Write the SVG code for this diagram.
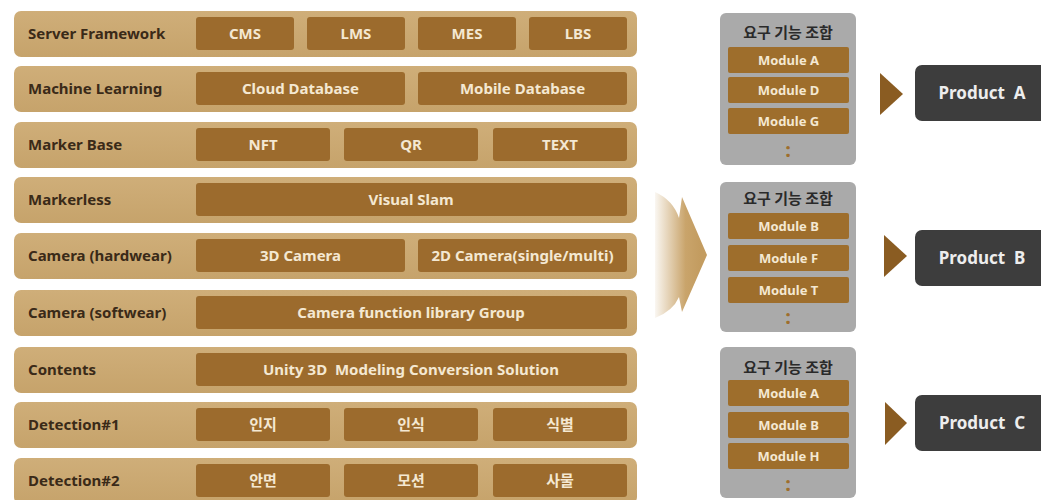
<svg xmlns="http://www.w3.org/2000/svg" width="1041" height="500" viewBox="0 0 1041 500">
<defs>
<linearGradient id="bigArrow" x1="652" y1="0" x2="700" y2="0" gradientUnits="userSpaceOnUse">
<stop offset="0" stop-color="#ffffff"/>
<stop offset="0.7" stop-color="#C9A46B"/>
<stop offset="1" stop-color="#C39C60"/>
</linearGradient>
<linearGradient id="bandGrad" x1="0" y1="0" x2="0" y2="1">
<stop offset="0" stop-color="#CFAE79"/>
<stop offset="1" stop-color="#C6A36B"/>
</linearGradient>
</defs>
<style>
.band{fill:url(#bandGrad)}
.cell{fill:#9C6B2D}
.lbl{font-family:"Noto Sans","Noto Sans CJK KR",sans-serif;font-weight:bold;font-size:15px;fill:#3A2A18}
.ct{font-family:"Noto Sans","Noto Sans CJK KR",sans-serif;font-weight:bold;font-size:15px;fill:#F4E8D2;text-anchor:middle}
.gbox{fill:#AAAAAA}
.mod{fill:#9E6E2C}
.mt{font-family:"Noto Sans",sans-serif;font-weight:bold;font-size:13px;fill:#F4E8D2;text-anchor:middle}
.title{font-family:"Noto Sans CJK KR","Noto Sans",sans-serif;font-weight:bold;font-size:15px;fill:#2A2A2A;text-anchor:middle}
.dots{font-family:"Noto Sans",sans-serif;font-weight:bold;font-size:20px;fill:#9E6E2C;text-anchor:middle}
.tri{fill:#8A5C22}
.prod{fill:#3D3D3D}
.pt{font-family:"Noto Sans",sans-serif;font-weight:bold;font-size:17px;fill:#EDEDED;text-anchor:middle}
</style>
<rect width="1041" height="500" fill="#ffffff"/>

<g id="row-server-framework">
<rect class="band" x="14" y="11" width="623" height="46" rx="7"/>
<text class="lbl" x="28" y="39">Server Framework</text>
<rect class="cell" x="196" y="17" width="98" height="33" rx="3"/><text class="ct" x="245" y="39">CMS</text>
<rect class="cell" x="307" y="17" width="98" height="33" rx="3"/><text class="ct" x="356" y="39">LMS</text>
<rect class="cell" x="418" y="17" width="98" height="33" rx="3"/><text class="ct" x="467" y="39">MES</text>
<rect class="cell" x="529" y="17" width="98" height="33" rx="3"/><text class="ct" x="578" y="39">LBS</text>
</g>

<g id="row-machine-learning">
<rect class="band" x="14" y="66" width="623" height="46" rx="7"/>
<text class="lbl" x="28" y="94">Machine Learning</text>
<rect class="cell" x="196" y="72" width="209" height="33" rx="3"/><text class="ct" x="300.5" y="94">Cloud Database</text>
<rect class="cell" x="418" y="72" width="209" height="33" rx="3"/><text class="ct" x="522.5" y="94">Mobile Database</text>
</g>

<g id="row-marker-base">
<rect class="band" x="14" y="122" width="623" height="46" rx="7"/>
<text class="lbl" x="28" y="150">Marker Base</text>
<rect class="cell" x="196" y="128" width="134" height="33" rx="3"/><text class="ct" x="263" y="150">NFT</text>
<rect class="cell" x="344" y="128" width="134" height="33" rx="3"/><text class="ct" x="411" y="150">QR</text>
<rect class="cell" x="493" y="128" width="134" height="33" rx="3"/><text class="ct" x="560" y="150">TEXT</text>
</g>

<g id="row-markerless">
<rect class="band" x="14" y="177" width="623" height="46" rx="7"/>
<text class="lbl" x="28" y="205">Markerless</text>
<rect class="cell" x="196" y="183" width="431" height="33" rx="3"/><text class="ct" x="411" y="205">Visual Slam</text>
</g>

<g id="row-camera-hardwear">
<rect class="band" x="14" y="233" width="623" height="46" rx="7"/>
<text class="lbl" x="28" y="261">Camera (hardwear)</text>
<rect class="cell" x="196" y="239" width="209" height="33" rx="3"/><text class="ct" x="300.5" y="261">3D Camera</text>
<rect class="cell" x="418" y="239" width="209" height="33" rx="3"/><text class="ct" x="522.5" y="261">2D Camera(single/multi)</text>
</g>

<g id="row-camera-softwear">
<rect class="band" x="14" y="290" width="623" height="46" rx="7"/>
<text class="lbl" x="28" y="318">Camera (softwear)</text>
<rect class="cell" x="196" y="296" width="431" height="33" rx="3"/><text class="ct" x="411" y="318">Camera function library Group</text>
</g>

<g id="row-contents">
<rect class="band" x="14" y="347" width="623" height="46" rx="7"/>
<text class="lbl" x="28" y="375">Contents</text>
<rect class="cell" x="196" y="353" width="431" height="33" rx="3"/><text class="ct" x="411" y="375" xml:space="preserve">Unity 3D  Modeling Conversion Solution</text>
</g>

<g id="row-detection1">
<rect class="band" x="14" y="402" width="623" height="46" rx="7"/>
<text class="lbl" x="28" y="430">Detection#1</text>
<rect class="cell" x="196" y="408" width="134" height="33" rx="3"/><text class="ct" x="263" y="430">인지</text>
<rect class="cell" x="344" y="408" width="134" height="33" rx="3"/><text class="ct" x="411" y="430">인식</text>
<rect class="cell" x="493" y="408" width="134" height="33" rx="3"/><text class="ct" x="560" y="430">식별</text>
</g>

<g id="row-detection2">
<rect class="band" x="14" y="458" width="623" height="46" rx="7"/>
<text class="lbl" x="28" y="486">Detection#2</text>
<rect class="cell" x="196" y="464" width="134" height="33" rx="3"/><text class="ct" x="263" y="486">안면</text>
<rect class="cell" x="344" y="464" width="134" height="33" rx="3"/><text class="ct" x="411" y="486">모션</text>
<rect class="cell" x="493" y="464" width="134" height="33" rx="3"/><text class="ct" x="560" y="486">사물</text>
</g>

<g id="connectors">
<path d="M655,192 Q673,200 679,218 L682,197 L707,255 L682,312 L679,297 Q673,311 655,318 Z" fill="url(#bigArrow)"/>
<polygon class="tri" points="880,73 903,94 880,115"/>
<polygon class="tri" points="884,235 907,256 884,277"/>
<polygon class="tri" points="885,402 907,423 885,445"/>
</g>

<g id="combo-a">
<rect class="gbox" x="720" y="13" width="136" height="152" rx="6"/>
<text class="title" x="788" y="38">요구 기능 조합</text>
<rect class="mod" x="728" y="47" width="121" height="26" rx="2"/><text class="mt" x="788.5" y="64.5">Module A</text>
<rect class="mod" x="728" y="77" width="121" height="26" rx="2"/><text class="mt" x="788.5" y="94.5">Module D</text>
<rect class="mod" x="728" y="108" width="121" height="26" rx="2"/><text class="mt" x="788.5" y="125.5">Module G</text>
<text class="dots" x="788" y="157">:</text>
</g>

<g id="combo-b">
<rect class="gbox" x="720" y="182" width="136" height="150" rx="6"/>
<text class="title" x="788" y="204">요구 기능 조합</text>
<rect class="mod" x="728" y="213" width="121" height="26" rx="2"/><text class="mt" x="788.5" y="230.5">Module B</text>
<rect class="mod" x="728" y="245" width="121" height="26" rx="2"/><text class="mt" x="788.5" y="262.5">Module F</text>
<rect class="mod" x="728" y="277" width="121" height="26" rx="2"/><text class="mt" x="788.5" y="294.5">Module T</text>
<text class="dots" x="788" y="324">:</text>
</g>

<g id="combo-c">
<rect class="gbox" x="720" y="347" width="136" height="151" rx="6"/>
<text class="title" x="788" y="373">요구 기능 조합</text>
<rect class="mod" x="728" y="380" width="121" height="26" rx="2"/><text class="mt" x="788.5" y="397.5">Module A</text>
<rect class="mod" x="728" y="412" width="121" height="26" rx="2"/><text class="mt" x="788.5" y="429.5">Module B</text>
<rect class="mod" x="728" y="443" width="121" height="26" rx="2"/><text class="mt" x="788.5" y="460.5">Module H</text>
<text class="dots" x="788" y="491">:</text>
</g>

<g id="product-a">
<rect class="prod" x="915" y="65" width="140" height="56" rx="7"/>
<text class="pt" x="982" y="99" xml:space="preserve">Product  A</text>
</g>
<g id="product-b">
<rect class="prod" x="915" y="230" width="140" height="56" rx="7"/>
<text class="pt" x="982" y="264" xml:space="preserve">Product  B</text>
</g>
<g id="product-c">
<rect class="prod" x="915" y="395" width="140" height="56" rx="7"/>
<text class="pt" x="982" y="429" xml:space="preserve">Product  C</text>
</g>
</svg>
